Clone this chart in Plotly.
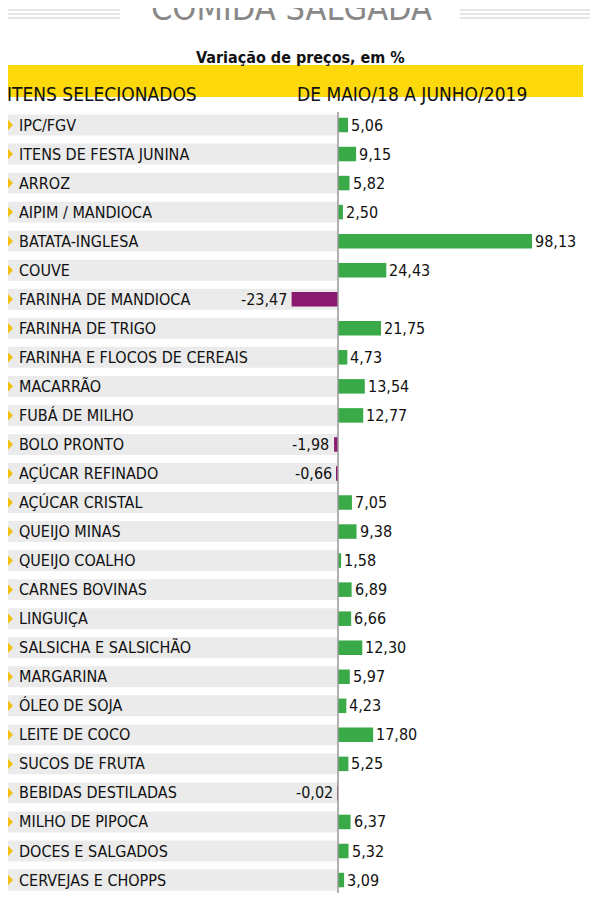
import plotly.graph_objects as go

items = ["IPC/FGV","ITENS DE FESTA JUNINA","ARROZ","AIPIM / MANDIOCA","BATATA-INGLESA","COUVE",
         "FARINHA DE MANDIOCA","FARINHA DE TRIGO","FARINHA E FLOCOS DE CEREAIS","MACARRÃO",
         "FUBÁ DE MILHO","BOLO PRONTO","AÇÚCAR REFINADO","AÇÚCAR CRISTAL","QUEIJO MINAS",
         "QUEIJO COALHO","CARNES BOVINAS","LINGUIÇA","SALSICHA E SALSICHÃO","MARGARINA",
         "ÓLEO DE SOJA","LEITE DE COCO","SUCOS DE FRUTA","BEBIDAS DESTILADAS","MILHO DE PIPOCA",
         "DOCES E SALGADOS","CERVEJAS E CHOPPS"]
values = [5.06,9.15,5.82,2.50,98.13,24.43,-23.47,21.75,4.73,13.54,12.77,-1.98,-0.66,7.05,9.38,
          1.58,6.89,6.66,12.30,5.97,4.23,17.80,5.25,-0.02,6.37,5.32,3.09]

FONT = "Liberation Sans Narrow, DejaVu Sans Condensed, Arial Narrow, sans-serif"
W, H = 600, 900
OFF = 8  # page body margin
def px(x): return (x - OFF) / W
def py(y): return 1 - (y - OFF) / H

zero_px, ppu = 338 - OFF, 194/98.13
row0, rowh = 125 - OFF, 29.04
xr = [-zero_px/ppu, (W-zero_px)/ppu]
yr = [(H-row0)/rowh, -row0/rowh]

ys = list(range(len(items)))
colors = ["#3aaa48" if v >= 0 else "#8a1a6e" for v in values]
fig = go.Figure(go.Bar(x=values, y=ys, orientation="h", marker_color=colors, width=0.5,
                       marker_line_width=0, hoverinfo="skip"))

shapes, ann = [], []
for i, (it, v) in enumerate(zip(items, values)):
    shapes.append(dict(type="rect", xref="paper", yref="y", x0=0, x1=px(338), y0=i-0.36, y1=i+0.36,
                       fillcolor="#ebebeb", line_width=0, layer="below"))
    shapes.append(dict(type="path", xref="paper", yref="y",
                       path=f"M {px(6)},{i-0.25} L {px(13)},{i} L {px(6)},{i+0.25} Z",
                       fillcolor="#f2c10f", line_width=0))
    ann.append(dict(x=px(17), xref="paper", y=i, yref="y", text=it, showarrow=False, xanchor="left",
                    font=dict(family=FONT, size=16, color="#111")))
    lbl = f"{v:.2f}".replace(".", ",")
    ann.append(dict(x=v, y=i, text=lbl, showarrow=False,
                    xanchor="left" if v >= 0 else "right", xshift=1 if v >= 0 else -3,
                    font=dict(family=FONT, size=16, color="#111")))
shapes.append(dict(type="line", xref="x", yref="paper", x0=0, x1=0, y0=py(112), y1=py(893),
                   line=dict(color="#999", width=1.5)))
shapes.append(dict(type="rect", xref="paper", yref="paper", x0=0, x1=px(583), y0=py(65), y1=py(97),
                   fillcolor="#fdd80a", line_width=0))
for x0, x1 in [(8, 120), (460, 590)]:
    for k in range(3):
        shapes.append(dict(type="line", xref="paper", yref="paper", x0=px(x0), x1=px(x1),
                           y0=py(10+k*4), y1=py(10+k*4), line=dict(color="#ccc", width=1)))
ann += [
    dict(x=px(291), y=py(8), xref="paper", yref="paper", text="COMIDA SALGADA", showarrow=False,
         yanchor="middle", font=dict(family="DejaVu Sans Condensed, sans-serif", size=34, color="#888")),
    dict(x=px(300), y=py(46), xref="paper", yref="paper", text="<b>Variação de preços, em %</b>",
         showarrow=False, font=dict(family=FONT, size=16, color="#111")),
    dict(x=px(5), y=py(81), xref="paper", yref="paper", text="ITENS SELECIONADOS", showarrow=False,
         xanchor="left", font=dict(family=FONT, size=19, color="#111")),
    dict(x=px(529), y=py(81), xref="paper", yref="paper", text="DE MAIO/18 A JUNHO/2019", showarrow=False,
         xanchor="right", font=dict(family=FONT, size=19, color="#111")),
]

fig.update_layout(width=W, height=H, margin=dict(l=0, r=0, t=0, b=0), plot_bgcolor="white",
                  paper_bgcolor="white", showlegend=False, shapes=shapes, annotations=ann,
                  xaxis=dict(range=xr, visible=False, fixedrange=True),
                  yaxis=dict(range=yr, visible=False, fixedrange=True))
fig.write_html("out.html", config={"displayModeBar": False})
